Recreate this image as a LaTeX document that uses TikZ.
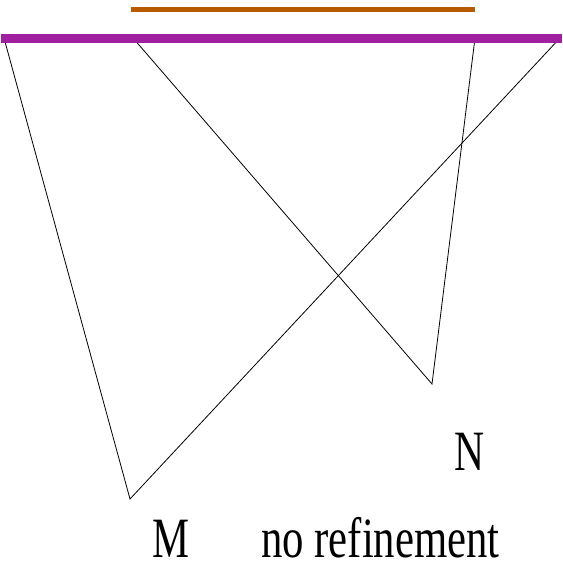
\documentclass[tikz,border=0pt]{standalone}
\usepackage{fontspec}
\setmainfont{Liberation Serif}
\definecolor{barpurple}{HTML}{A020A0}
\definecolor{barorange}{HTML}{B85A00}
\newcommand{\nodepth}[2]{\raisebox{0pt}[\height][0pt]{\scalebox{#1}[1]{#2}}}
\begin{document}
\begin{tikzpicture}[x=1pt,y=-1pt,
  edge/.style={draw=black,line width=0.8pt},
  lbl/.style={inner sep=0pt,anchor=base west,font=\fontsize{57}{60}\selectfont}]
\useasboundingbox (0,0) rectangle (563,566);
\coordinate (a) at (4,38);
\coordinate (m) at (130,499);
\coordinate (b) at (560,38);
\coordinate (c) at (133,38);
\coordinate (n) at (432,384);
\coordinate (d) at (475,38);
\coordinate (p1) at (1,38);
\coordinate (p2) at (562,38);
\coordinate (o1) at (131,9);
\coordinate (o2) at (475,9);
\draw[edge] (a) -- (m) -- (b);
\draw[edge] (c) -- (n) -- (d);
\draw[barpurple,line width=9pt] (p1) -- (p2);
\draw[barorange,line width=5pt] (o1) -- (o2);
\node[lbl] (M) at (152,557) {\nodepth{0.73}{M}};
\node[lbl] (N) at (454,470) {\nodepth{0.73}{N}};
\node[lbl] (t) at (261,557) {\nodepth{0.75}{no refinement}};
\end{tikzpicture}
\end{document}
